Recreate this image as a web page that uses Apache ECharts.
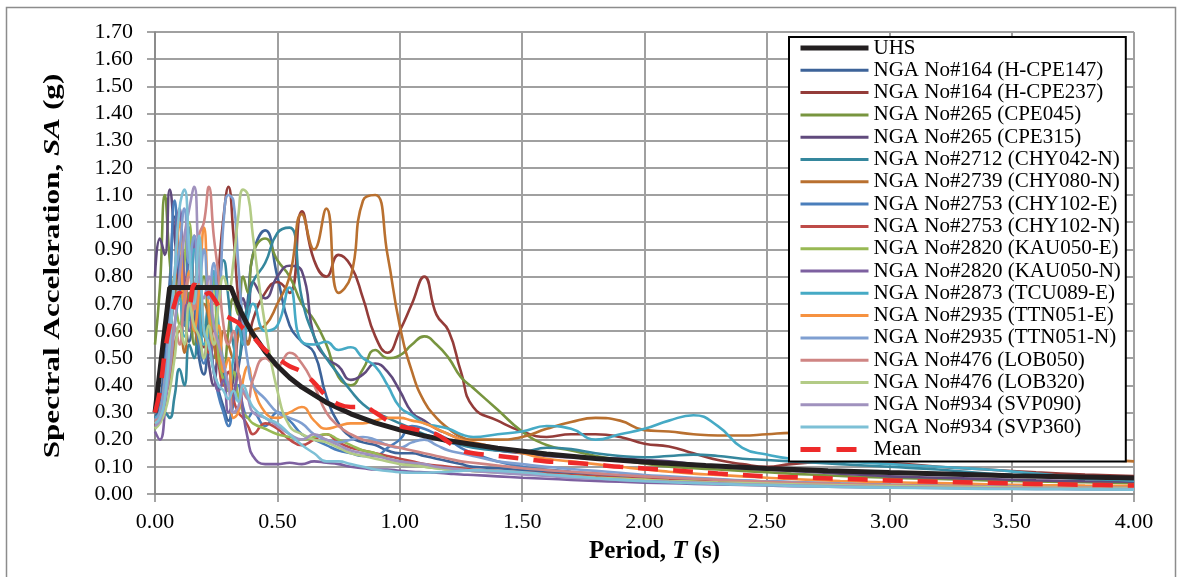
<!DOCTYPE html>
<html>
<head>
<meta charset="utf-8">
<script src="https://cdn.jsdelivr.net/npm/echarts@6.0.0/dist/echarts.min.js"></script>
<style>
  html, body { margin: 0; padding: 0; background: #ffffff; }
  #chart { width: 1182px; height: 577px; }
</style>
</head>
<body>
<div id="chart"></div>
<script>
// Spectral periods (s) shared by all record spectra and the mean
const periods = [
  0, 0.02, 0.04, 0.06, 0.08, 0.10, 0.12, 0.14, 0.16, 0.18, 0.20, 0.22, 0.24, 0.26, 0.28, 0.30, 0.32, 0.34, 0.36, 0.38, 0.40,
  0.45, 0.50, 0.55, 0.60, 0.65, 0.70, 0.75, 0.80, 0.85, 0.90, 0.95, 1.00, 1.05, 1.10, 1.15, 1.20, 1.25, 1.30,
  1.4, 1.5, 1.6, 1.7, 1.8, 1.9, 2.0, 2.1, 2.2, 2.3, 2.4, 2.5, 2.6, 2.8, 3.0, 3.2, 3.4, 3.6, 3.8, 4.0
];

// Uniform hazard spectrum (g)
const uhsPeriods = [0, 0.06, 0.31, 0.33, 0.35, 0.375, 0.40, 0.45, 0.50, 0.55, 0.60, 0.70, 0.80, 0.90, 1.00, 1.10, 1.20, 1.40, 1.60, 1.80, 2.00, 2.25, 2.50, 2.75, 3.00, 3.50, 4.00];
const uhsValues  = [0.30, 0.76, 0.76, 0.714, 0.673, 0.628, 0.589, 0.524, 0.471, 0.428, 0.393, 0.337, 0.295, 0.262, 0.236, 0.214, 0.196, 0.168, 0.147, 0.131, 0.118, 0.105, 0.094, 0.086, 0.079, 0.067, 0.059];

// Response spectra of the scaled records (g)
const nga164_CPE147 = [0.28,0.33,0.52,0.78,1.02,0.82,0.68,0.56,0.64,0.50,0.44,0.52,0.46,0.38,0.32,0.27,0.36,0.46,0.58,0.72,0.88,
  0.97,0.80,0.62,0.56,0.52,0.36,0.26,0.21,0.19,0.18,0.16,0.15,0.15,0.14,0.13,0.12,0.11,0.10,
  0.095,0.088,0.082,0.076,0.07,0.066,0.062,0.058,0.055,0.052,0.049,0.046,0.043,0.038,0.034,0.031,0.028,0.026,0.024,0.022];
const nga164_CPE237 = [0.25,0.29,0.44,0.60,0.72,0.86,0.76,0.64,0.72,0.60,0.54,0.68,0.60,0.82,1.02,1.13,0.96,0.72,0.60,0.56,0.64,
  0.74,0.78,0.74,1.04,0.86,0.80,0.88,0.84,0.72,0.58,0.52,0.60,0.70,0.80,0.66,0.60,0.45,0.32,
  0.27,0.23,0.21,0.22,0.22,0.21,0.185,0.175,0.15,0.125,0.11,0.10,0.11,0.12,0.115,0.10,0.09,0.08,0.072,0.066];
const nga265_CPE045 = [0.55,0.76,1.10,0.86,0.70,0.88,0.62,0.74,0.55,0.68,0.80,0.62,0.50,0.58,0.45,0.60,0.72,0.66,0.80,0.74,0.88,
  0.94,0.86,0.80,0.70,0.64,0.55,0.43,0.40,0.46,0.53,0.50,0.51,0.55,0.58,0.55,0.50,0.43,0.39,
  0.31,0.23,0.18,0.16,0.14,0.125,0.112,0.10,0.095,0.09,0.085,0.08,0.075,0.066,0.06,0.055,0.05,0.046,0.043,0.04];
const nga265_CPE315 = [0.80,0.94,0.88,1.12,0.95,0.76,0.64,0.90,0.70,0.56,0.62,0.48,0.40,0.52,0.44,0.38,0.42,0.60,0.72,0.66,0.78,
  0.72,0.80,0.84,0.82,0.58,0.50,0.47,0.42,0.44,0.48,0.45,0.38,0.30,0.27,0.24,0.22,0.20,0.18,
  0.16,0.15,0.14,0.135,0.13,0.13,0.125,0.12,0.11,0.10,0.095,0.09,0.085,0.075,0.065,0.06,0.055,0.05,0.047,0.045];
const nga2712_CHY042N = [0.25,0.27,0.30,0.28,0.36,0.46,0.40,0.55,0.50,0.66,0.58,0.70,0.62,0.76,0.86,0.72,0.55,0.50,0.62,0.70,0.78,
  0.85,0.96,0.98,0.72,0.58,0.50,0.44,0.38,0.33,0.30,0.28,0.26,0.24,0.22,0.205,0.19,0.18,0.17,
  0.16,0.155,0.17,0.165,0.15,0.14,0.135,0.14,0.145,0.14,0.13,0.125,0.12,0.11,0.10,0.09,0.075,0.065,0.055,0.05];
const nga2739_CHY080N = [0.26,0.28,0.35,0.42,0.55,0.60,0.52,0.70,0.62,0.55,0.70,0.65,0.55,0.48,0.60,0.55,0.50,0.58,0.62,0.55,0.60,
  0.62,0.70,0.80,1.03,0.90,1.05,0.74,0.80,1.08,1.10,0.88,0.62,0.45,0.34,0.28,0.24,0.21,0.20,
  0.20,0.21,0.24,0.265,0.28,0.27,0.235,0.23,0.22,0.215,0.215,0.22,0.225,0.22,0.20,0.18,0.16,0.14,0.13,0.12];
const nga2753_CHY102E = [0.26,0.30,0.46,0.72,1.08,0.80,0.62,0.98,0.74,0.55,0.48,0.60,0.45,0.36,0.30,0.25,0.33,0.40,0.32,0.28,0.30,
  0.25,0.30,0.27,0.22,0.20,0.18,0.16,0.15,0.14,0.14,0.17,0.20,0.25,0.24,0.22,0.20,0.17,0.15,
  0.12,0.10,0.09,0.082,0.075,0.068,0.062,0.057,0.052,0.048,0.044,0.04,0.037,0.032,0.028,0.025,0.023,0.021,0.02,0.019];
const nga2753_CHY102N = [0.25,0.28,0.40,0.62,0.76,1.02,0.80,0.65,0.95,0.70,0.60,0.52,0.62,0.48,0.40,0.45,0.35,0.30,0.28,0.25,0.22,
  0.26,0.24,0.20,0.18,0.20,0.22,0.19,0.17,0.16,0.15,0.14,0.13,0.12,0.11,0.105,0.10,0.095,0.09,
  0.085,0.08,0.075,0.07,0.065,0.06,0.056,0.052,0.048,0.045,0.042,0.04,0.037,0.033,0.03,0.028,0.026,0.024,0.022,0.02];
const nga2820_KAU050E = [0.24,0.28,0.38,0.55,0.70,0.62,0.85,1.00,0.70,0.92,0.60,0.55,0.80,0.50,0.42,0.38,0.45,0.36,0.30,0.28,0.26,
  0.24,0.22,0.21,0.20,0.21,0.22,0.20,0.18,0.16,0.15,0.13,0.12,0.11,0.10,0.095,0.09,0.088,0.085,
  0.08,0.075,0.07,0.065,0.06,0.056,0.052,0.048,0.045,0.042,0.04,0.038,0.035,0.031,0.028,0.026,0.024,0.022,0.021,0.02];
const nga2820_KAU050N = [0.23,0.20,0.30,0.55,0.80,1.05,0.78,0.60,0.95,0.65,0.50,0.60,0.45,0.38,0.42,0.30,0.35,0.44,0.30,0.20,0.14,
  0.11,0.11,0.115,0.11,0.12,0.115,0.11,0.10,0.095,0.09,0.09,0.085,0.082,0.08,0.078,0.075,0.072,0.07,
  0.065,0.06,0.056,0.052,0.048,0.045,0.042,0.04,0.037,0.035,0.033,0.031,0.029,0.026,0.024,0.022,0.02,0.019,0.018,0.017];
const nga2873_TCU089E = [0.28,0.30,0.36,0.50,0.62,0.72,0.58,0.66,0.90,0.70,0.55,0.60,0.82,0.62,0.48,0.40,0.50,0.62,0.55,0.65,0.70,
  0.60,0.62,0.76,0.56,0.55,0.56,0.53,0.54,0.50,0.47,0.40,0.32,0.29,0.26,0.25,0.24,0.22,0.21,
  0.22,0.23,0.25,0.24,0.20,0.22,0.24,0.27,0.29,0.25,0.17,0.145,0.13,0.12,0.11,0.10,0.09,0.075,0.06,0.05];
const nga2935_TTN051E = [0.26,0.30,0.42,0.60,0.78,1.00,0.70,0.82,0.60,0.75,0.98,0.68,0.55,0.62,0.45,0.50,0.28,0.30,0.42,0.47,0.40,
  0.30,0.28,0.30,0.32,0.27,0.24,0.25,0.26,0.26,0.27,0.28,0.28,0.27,0.26,0.24,0.22,0.20,0.19,
  0.17,0.15,0.13,0.12,0.11,0.10,0.09,0.082,0.075,0.07,0.065,0.06,0.055,0.048,0.043,0.04,0.036,0.033,0.031,0.03];
const nga2935_TTN051N = [0.27,0.30,0.42,0.65,0.80,0.90,1.05,0.85,0.95,0.78,0.90,0.72,0.85,0.70,1.00,1.10,1.08,0.85,0.62,0.48,0.40,
  0.35,0.30,0.28,0.26,0.22,0.20,0.19,0.20,0.21,0.20,0.18,0.17,0.19,0.20,0.18,0.16,0.15,0.14,
  0.12,0.11,0.10,0.092,0.085,0.078,0.07,0.065,0.06,0.055,0.05,0.047,0.044,0.038,0.034,0.03,0.028,0.026,0.024,0.022];
const nga476_LOB050 = [0.27,0.28,0.35,0.48,0.62,0.55,0.72,0.80,0.68,0.95,1.00,1.13,0.95,0.80,0.62,0.55,0.60,0.45,0.38,0.35,0.42,
  0.50,0.47,0.52,0.48,0.40,0.30,0.25,0.22,0.20,0.19,0.18,0.17,0.16,0.15,0.14,0.13,0.12,0.115,
  0.105,0.095,0.088,0.082,0.076,0.07,0.065,0.06,0.056,0.052,0.048,0.045,0.042,0.037,0.033,0.03,0.027,0.025,0.023,0.021];
const nga476_LOB320 = [0.24,0.26,0.30,0.38,0.50,0.62,0.55,0.70,0.62,0.58,0.50,0.62,0.55,0.70,0.80,0.75,0.85,1.02,1.12,1.10,0.95,
  0.62,0.38,0.25,0.22,0.20,0.19,0.17,0.15,0.14,0.13,0.12,0.11,0.105,0.10,0.095,0.09,0.088,0.085,
  0.08,0.075,0.07,0.065,0.06,0.056,0.052,0.048,0.045,0.042,0.04,0.038,0.036,0.032,0.029,0.027,0.025,0.023,0.022,0.021];
const nga934_SVP090 = [0.25,0.27,0.34,0.45,0.62,0.80,0.95,1.05,1.13,0.85,0.72,0.80,0.62,0.55,0.48,0.40,0.30,0.32,0.38,0.35,0.30,
  0.28,0.25,0.22,0.20,0.22,0.20,0.18,0.16,0.15,0.14,0.13,0.12,0.115,0.11,0.10,0.095,0.09,0.085,
  0.078,0.072,0.066,0.06,0.056,0.052,0.048,0.045,0.042,0.039,0.036,0.034,0.032,0.028,0.025,0.023,0.021,0.02,0.019,0.018];
const nga934_SVP360 = [0.26,0.28,0.35,0.55,0.80,1.05,1.12,0.90,0.70,0.95,0.60,0.55,0.45,0.40,0.38,0.35,0.38,0.34,0.40,0.36,0.32,
  0.28,0.26,0.22,0.18,0.15,0.12,0.12,0.11,0.10,0.09,0.085,0.08,0.078,0.078,0.08,0.082,0.085,0.088,
  0.085,0.08,0.072,0.065,0.058,0.052,0.047,0.043,0.04,0.037,0.034,0.032,0.03,0.026,0.023,0.021,0.019,0.018,0.017,0.016];

// Mean spectrum of the record set (g)
const meanValues = [0.30,0.38,0.52,0.62,0.70,0.74,0.72,0.70,0.77,0.76,0.73,0.74,0.72,0.69,0.66,0.65,0.64,0.63,0.61,0.60,0.58,
  0.53,0.50,0.47,0.45,0.41,0.36,0.33,0.32,0.32,0.30,0.27,0.25,0.24,0.23,0.22,0.19,0.16,0.15,
  0.14,0.13,0.12,0.115,0.108,0.10,0.094,0.088,0.082,0.075,0.07,0.065,0.062,0.056,0.05,0.045,0.041,0.037,0.034,0.031];

// Legend names, in drawing order of the records
const recordNames = [
  'NGA No#164 (H-CPE147)', 'NGA No#164 (H-CPE237)', 'NGA No#265 (CPE045)', 'NGA No#265 (CPE315)',
  'NGA No#2712 (CHY042-N)', 'NGA No#2739 (CHY080-N)', 'NGA No#2753 (CHY102-E)', 'NGA No#2753 (CHY102-N)',
  'NGA No#2820 (KAU050-E)', 'NGA No#2820 (KAU050-N)', 'NGA No#2873 (TCU089-E)', 'NGA No#2935 (TTN051-E)',
  'NGA No#2935 (TTN051-N)', 'NGA No#476 (LOB050)', 'NGA No#476 (LOB320)', 'NGA No#934 (SVP090)', 'NGA No#934 (SVP360)'
];
const recordValues = [
  nga164_CPE147, nga164_CPE237, nga265_CPE045, nga265_CPE315, nga2712_CHY042N, nga2739_CHY080N,
  nga2753_CHY102E, nga2753_CHY102N, nga2820_KAU050E, nga2820_KAU050N, nga2873_TCU089E, nga2935_TTN051E,
  nga2935_TTN051N, nga476_LOB050, nga476_LOB320, nga934_SVP090, nga934_SVP360
];
const xTicks = [0, 0.5, 1, 1.5, 2, 2.5, 3, 3.5, 4];

// Line colours of the records
const recordColors = [
  '#3d6399', '#943c39', '#78953f', '#604a7d', '#35879d', '#b9702f',
  '#4a7ebb', '#be4b48', '#98b954', '#7d60a0', '#46aac5', '#f69240',
  '#7f9fd1', '#cf8583', '#b3cb86', '#a092be', '#7dc0d6'
];

const serif = '"Liberation Serif", "Times New Roman", serif';
const pairs = (xs, ys) => xs.map((x, i) => [x, ys[i]]);
const meanDash = [20, 15];

const series = [];
series.push({
  name: 'UHS', type: 'line', data: pairs(uhsPeriods, uhsValues),
  showSymbol: false, symbol: 'none', smooth: false, z: 5,
  lineStyle: { color: '#231f20', width: 5 }, itemStyle: { color: '#231f20' }
});
recordNames.forEach((name, k) => {
  series.push({
    name, type: 'line', data: pairs(periods, recordValues[k]),
    showSymbol: false, symbol: 'none', smooth: 0.5, z: 2,
    lineStyle: { color: recordColors[k], width: 2.6 }, itemStyle: { color: recordColors[k] }
  });
});
series.push({
  name: 'Mean', type: 'line', data: pairs(periods, meanValues),
  showSymbol: false, symbol: 'none', smooth: 0.4, z: 6,
  lineStyle: { color: '#ee2a2a', width: 4.5, type: meanDash }, itemStyle: { color: '#ee2a2a' }
});

// Legend entries with sample line widths matching the plotted lines
const legendItems = [{ name: 'UHS', lineStyle: { width: 5 } }]
  .concat(recordNames.map(n => ({ name: n, lineStyle: { width: 3 } })))
  .concat([{ name: 'Mean', lineStyle: { width: 5, type: [20, 16] } }]);

const chart = echarts.init(document.getElementById('chart'), null, { renderer: 'canvas' });
chart.setOption({
  animation: false,
  backgroundColor: '#ffffff',
  grid: { left: 155, right: 48, top: 32, bottom: 83, containLabel: false },
  xAxis: {
    type: 'value', min: 0, max: 4, interval: 0.5,
    axisLine: { show: true, onZero: false, lineStyle: { color: '#868686', width: 1.5 } },
    axisTick: { show: true, length: 8, lineStyle: { color: '#868686', width: 1.5 } },
    axisLabel: {
      margin: 17, color: '#000', fontFamily: serif, fontSize: 22,
      formatter: v => (xTicks.includes(v) ? v.toFixed(2) : '')
    },
    splitLine: { show: true, lineStyle: { color: '#a0a0a0', width: 2 } },
    name: 'Period, {i|T} (s)', nameLocation: 'middle', nameGap: 45,
    nameTextStyle: {
      color: '#000', fontFamily: serif, fontSize: 25, fontWeight: 'bold', padding: [0, 0, 0, 20],
      rich: { i: { fontFamily: serif, fontSize: 25, fontWeight: 'bold', fontStyle: 'italic', color: '#000' } }
    }
  },
  yAxis: {
    type: 'value', min: 0, max: 1.7, interval: 0.1,
    axisLine: { show: true, lineStyle: { color: '#868686', width: 1.5 } },
    axisTick: { show: true, length: 8, lineStyle: { color: '#868686', width: 1.5 } },
    axisLabel: { margin: 22, color: '#000', fontFamily: serif, fontSize: 22, formatter: v => v.toFixed(2) },
    splitLine: { show: true, lineStyle: { color: '#a0a0a0', width: 2 } }
  },
  legend: {
    orient: 'vertical', left: 789, top: 37, z: 20,
    padding: [0, 5, 1, 9], itemGap: 0.3, itemWidth: 68, itemHeight: 12,
    itemStyle: { opacity: 0 },
    backgroundColor: '#ffffff', borderColor: '#000000', borderWidth: 2, borderRadius: 0,
    textStyle: { color: '#000', fontFamily: serif, fontSize: 21, lineHeight: 22 },
    data: legendItems
  },
  graphic: [
    {
      type: 'rect', silent: true, z: -1,
      shape: { x: 6.5, y: 7.5, width: 1169, height: 575 },
      style: { fill: 'none', stroke: '#8c8c8c', lineWidth: 1.5 }
    },
    {
      type: 'text', silent: true, x: 53, y: 266, rotation: Math.PI / 2, scaleX: 1.3,
      style: {
        text: 'Spectral Acceleration, {i|SA} (g)',
        fontFamily: serif, fontSize: 24, fontWeight: 'bold', fill: '#000',
        align: 'center', verticalAlign: 'middle',
        rich: { i: { fontFamily: serif, fontSize: 24, fontWeight: 'bold', fontStyle: 'italic', fill: '#000' } }
      }
    }
  ],
  series
});
</script>
</body>
</html>
